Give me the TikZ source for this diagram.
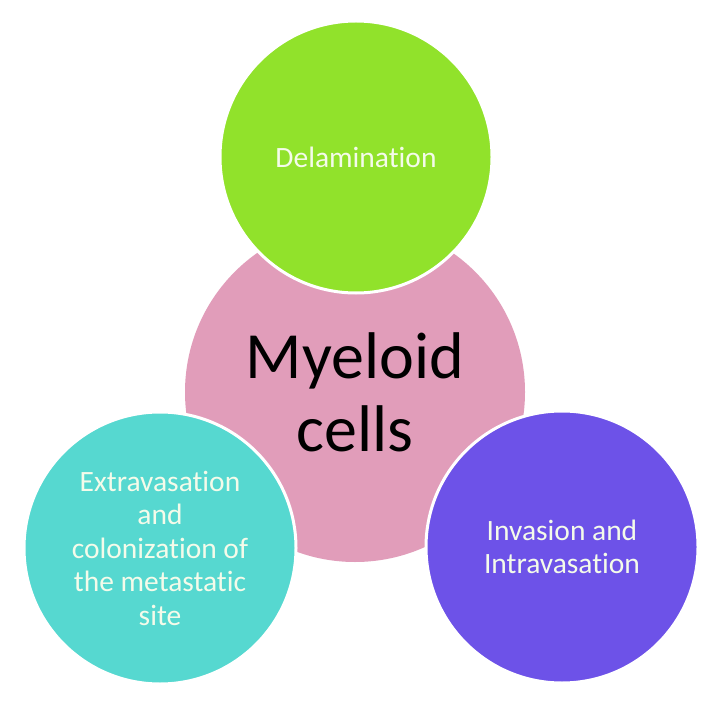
\documentclass[tikz,border=0pt]{standalone}
\usepackage{fontspec}
\setmainfont{Carlito}[Ligatures=NoCommon]
\usepackage{xcolor}
\usetikzlibrary{positioning}
\definecolor{CellPink}{HTML}{E19DBA}
\definecolor{StepGreen}{HTML}{91E22B}
\definecolor{StepTeal}{HTML}{56D8D0}
\definecolor{StepViolet}{HTML}{6D52E8}
\definecolor{SoftWhite}{HTML}{F4FBEA}

\begin{document}
\begin{tikzpicture}[x=1pt,y=-1pt,
    stage/.style={circle,inner sep=0pt,minimum size=272pt,draw=white,
      line width=3pt,text=SoftWhite,align=center,
      font=\fontsize{29.5}{33.5}\selectfont}]
    \useasboundingbox[fill=white] (0,0) rectangle (725,711);

    % Central circle.
    \node[circle,inner sep=0pt,minimum size=340pt,fill=CellPink,align=center,
      font=\fontsize{66}{73}\selectfont] (myeloid) at (355,392)
      {Myeloid\\cells};

    % Three stages round it.
    \node[stage,fill=StepGreen] (delam) at (356,157) {Delamination};
    \node[stage,fill=StepTeal] (extra) at (160,548)
      {Extravasation\\and\\colonization of\\the metastatic\\site};
    \node[stage,fill=StepViolet] (invas) at (562,547)
      {Invasion and\\Intravasation};
  \end{tikzpicture}
\end{document}
